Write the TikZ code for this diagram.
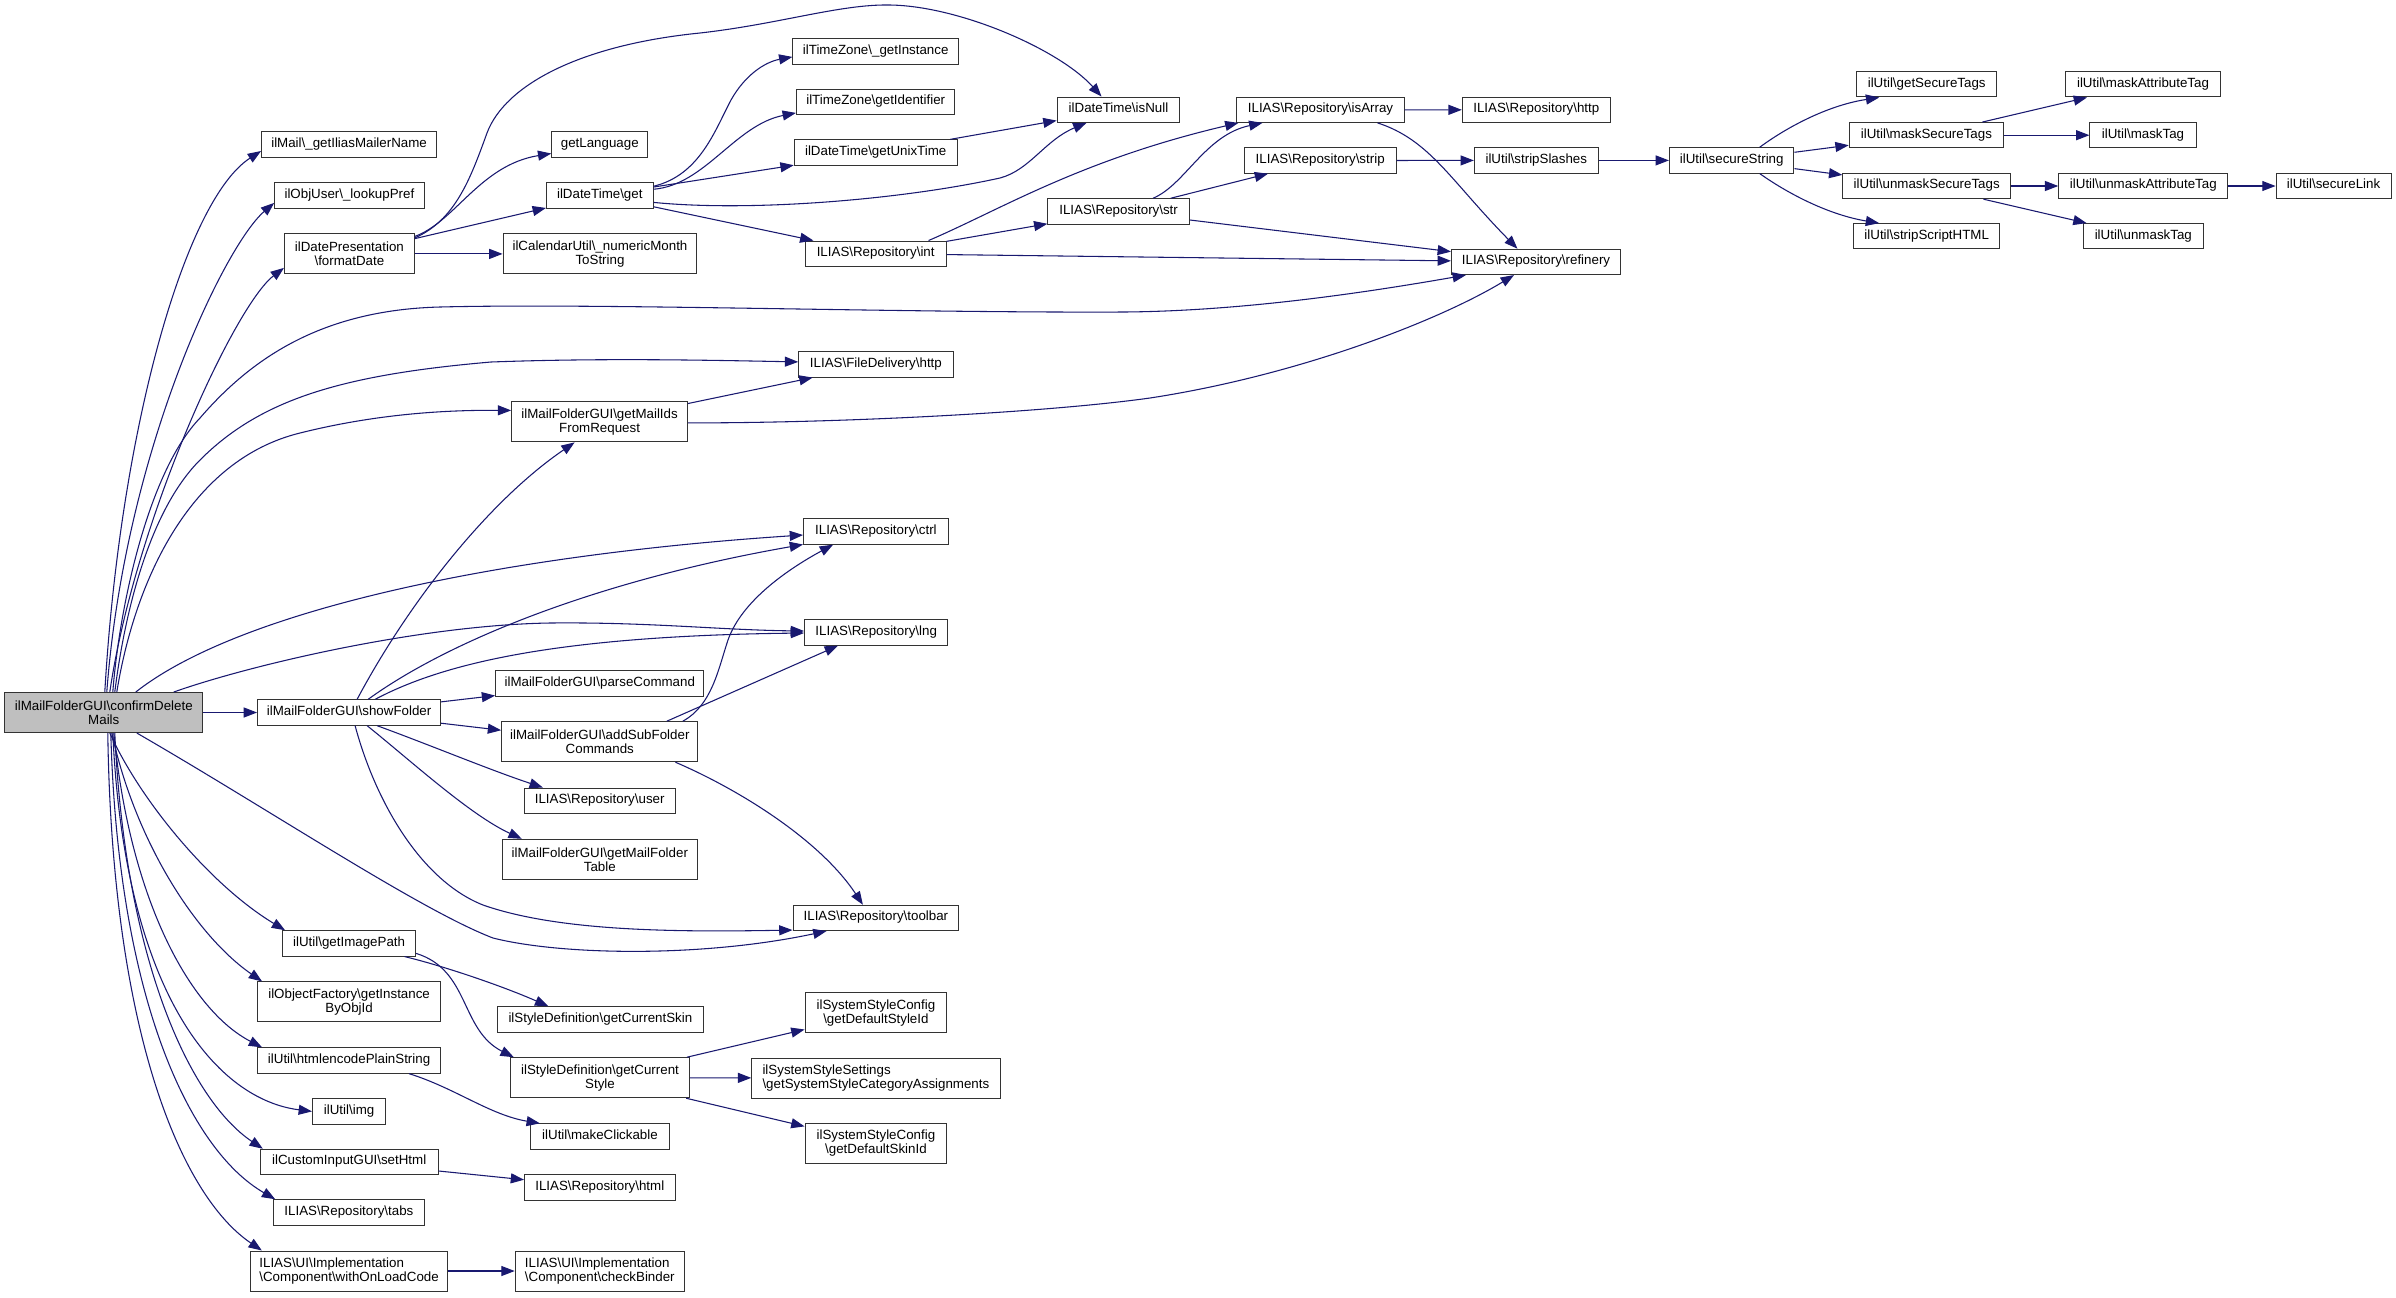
\documentclass[tikz,border=0pt]{standalone}
\usepackage{fontspec}
\setmainfont{Liberation Sans}
\usetikzlibrary{arrows.meta,calc}
\definecolor{edgecol}{HTML}{191970}
\definecolor{rootfill}{HTML}{BFBFBF}
\newcommand{\dxbs}{\textbackslash{}}
\begin{document}
\begin{tikzpicture}[x=0.75pt,y=-0.75pt,
  nd/.style={draw=black!80, line width=0.75pt, fill=white, inner sep=0pt, font=\fontsize{10}{10.5}\selectfont, minimum height=19pt, text height=7pt, text depth=2.8pt},
  ndd/.style={draw=black!80, line width=0.75pt, fill=white, inner sep=0pt, font=\fontsize{10}{10.5}\selectfont, minimum height=30pt, align=center},
  ndl/.style={ndd, align=left},
  ed/.style={draw=edgecol, line width=0.8pt, -{Triangle[length=10pt,width=7.5pt]}}]
\useasboundingbox (0,0) rectangle (2396,1297);
\fill[white] (0,0) rectangle (2396,1297);
% nodes
\node[ndd, fill=rootfill, minimum width=148.4pt] (cdm) at (103.8,712.5) {ilMailFolderGUI\dxbs confirmDelete\\Mails};
\node[nd, minimum width=131.3pt] (mailer) at (349.1,144.5) {ilMail\dxbs\_getIliasMailerName};
\node[nd, minimum width=112.1pt] (lookup) at (349.4,195.4) {ilObjUser\dxbs\_lookupPref};
\node[ndd, minimum width=97.4pt] (fdate) at (349.4,253.9) {ilDatePresentation\\\dxbs formatDate};
\node[nd, minimum width=72pt] (getlang) at (599.8,144.5) {getLanguage};
\node[nd, minimum width=80pt] (dtget) at (599.8,195.4) {ilDateTime\dxbs get};
\node[ndd, minimum width=145.4pt] (calutil) at (600,253.9) {ilCalendarUtil\dxbs\_numericMonth\\ToString};
\node[ndd, minimum width=131.9pt] (getmailids) at (599.6,421.9) {ilMailFolderGUI\dxbs getMailIds\\FromRequest};
\node[nd, minimum width=124.2pt] (tzinst) at (875.7,51.4) {ilTimeZone\dxbs\_getInstance};
\node[nd, minimum width=118.9pt] (tzid) at (875.7,101.9) {ilTimeZone\dxbs getIdentifier};
\node[nd, minimum width=122.2pt] (unixtime) at (875.7,152.5) {ilDateTime\dxbs getUnixTime};
\node[nd, minimum width=92.1pt] (isnull) at (1118.5,109.7) {ilDateTime\dxbs isNull};
\node[nd, minimum width=125.3pt] (isarray) at (1320.5,109.7) {ILIAS\dxbs Repository\dxbs isArray};
\node[nd, minimum width=113.8pt] (strip) at (1320.2,160.5) {ILIAS\dxbs Repository\dxbs strip};
\node[nd, minimum width=106.1pt] (str) at (1118.6,211.4) {ILIAS\dxbs Repository\dxbs str};
\node[nd, minimum width=105.5pt] (int) at (875.7,253.7) {ILIAS\dxbs Repository\dxbs int};
\node[nd, minimum width=115.8pt] (fdhttp) at (875.9,364.4) {ILIAS\dxbs FileDelivery\dxbs http};
\node[nd, minimum width=111pt] (rephttp) at (1536.3,109.9) {ILIAS\dxbs Repository\dxbs http};
\node[nd, minimum width=92.9pt] (stripsl) at (1536.3,160.4) {ilUtil\dxbs stripSlashes};
\node[nd, minimum width=126.8pt] (refinery) at (1536,261.9) {ILIAS\dxbs Repository\dxbs refinery};
\node[nd, minimum width=93.4pt] (securestr) at (1731.7,160.4) {ilUtil\dxbs secureString};
\node[nd, minimum width=104.9pt] (getsectags) at (1926.7,84.3) {ilUtil\dxbs getSecureTags};
\node[nd, minimum width=115.8pt] (masksec) at (1926.4,135.2) {ilUtil\dxbs maskSecureTags};
\node[nd, minimum width=125.8pt] (unmasksec) at (1926.7,186) {ilUtil\dxbs unmaskSecureTags};
\node[nd, minimum width=109.6pt] (stripscript) at (1926.7,236.3) {ilUtil\dxbs stripScriptHTML};
\node[nd, minimum width=115.8pt] (maskattr) at (2143,84.3) {ilUtil\dxbs maskAttributeTag};
\node[nd, minimum width=79.6pt] (masktag) at (2143,135.2) {ilUtil\dxbs maskTag};
\node[nd, minimum width=126.8pt] (unmaskattr) at (2143.3,186) {ilUtil\dxbs unmaskAttributeTag};
\node[nd, minimum width=89.6pt] (unmasktag) at (2143.3,236.3) {ilUtil\dxbs unmaskTag};
\node[nd, minimum width=86.3pt] (securelink) at (2333.6,186) {ilUtil\dxbs secureLink};
\node[nd, minimum width=137.3pt] (showfolder) at (349.1,712.5) {ilMailFolderGUI\dxbs showFolder};
\node[nd, minimum width=156.2pt] (parsecmd) at (599.8,683.5) {ilMailFolderGUI\dxbs parseCommand};
\node[ndd, minimum width=147.2pt] (addsub) at (599.8,741.7) {ilMailFolderGUI\dxbs addSubFolder\\Commands};
\node[nd, minimum width=113pt] (user) at (599.7,800.7) {ILIAS\dxbs Repository\dxbs user};
\node[ndd, minimum width=146.3pt] (mftable) at (599.8,859.3) {ilMailFolderGUI\dxbs getMailFolder\\Table};
\node[nd, minimum width=108.5pt] (ctrl) at (875.9,531.5) {ILIAS\dxbs Repository\dxbs ctrl};
\node[nd, minimum width=107.5pt] (lng) at (876.2,632.5) {ILIAS\dxbs Repository\dxbs lng};
\node[nd, minimum width=124.3pt] (toolbar) at (875.9,917.9) {ILIAS\dxbs Repository\dxbs toolbar};
\node[nd, minimum width=99.8pt] (getimg) at (349.1,943.4) {ilUtil\dxbs getImagePath};
\node[ndd, minimum width=137.3pt] (objfactory) at (349.1,1001.9) {ilObjectFactory\dxbs getInstance\\ByObjId};
\node[nd, minimum width=137.3pt] (htmlencode) at (349.1,1060.5) {ilUtil\dxbs htmlencodePlainString};
\node[nd, minimum width=54.9pt] (img) at (349.1,1111.4) {ilUtil\dxbs img};
\node[nd, minimum width=133.3pt] (sethtml) at (349.2,1161.9) {ilCustomInputGUI\dxbs setHtml};
\node[nd, minimum width=112.8pt] (tabs) at (348.9,1212.4) {ILIAS\dxbs Repository\dxbs tabs};
\node[ndl, minimum width=148.1pt] (onload) at (349.1,1271) {ILIAS\dxbs UI\dxbs Implementation\\\dxbs Component\dxbs withOnLoadCode};
\node[ndl, minimum width=126.9pt] (checkbinder) at (599.8,1271) {ILIAS\dxbs UI\dxbs Implementation\\\dxbs Component\dxbs checkBinder};
\node[nd, minimum width=153.9pt] (curskin) at (600.4,1019.4) {ilStyleDefinition\dxbs getCurrentSkin};
\node[ndd, minimum width=134.6pt] (curstyle) at (600,1077.7) {ilStyleDefinition\dxbs getCurrent\\Style};
\node[nd, minimum width=104.4pt] (makeclick) at (600,1136.5) {ilUtil\dxbs makeClickable};
\node[nd, minimum width=112.8pt] (html) at (599.8,1187.4) {ILIAS\dxbs Repository\dxbs html};
\node[ndd, minimum width=106.3pt] (defstyle) at (875.9,1012.7) {ilSystemStyleConfig\\\dxbs getDefaultStyleId};
\node[ndl, minimum width=186.2pt] (catassign) at (875.9,1078) {ilSystemStyleSettings\\\dxbs getSystemStyleCategoryAssignments};
\node[ndd, minimum width=106.3pt] (defskin) at (875.9,1143.3) {ilSystemStyleConfig\\\dxbs getDefaultSkinId};
% edges from confirmDeleteMails (upper)
\draw[ed] ($(cdm.north)+(1,0)$) .. controls (120,430) and (185,200) .. ($(mailer.west)+(0,6.5)$);
\draw[ed] ($(cdm.north)+(3,0)$) .. controls (125,450) and (225,245) .. ($(lookup.west)+(0,7.5)$);
\draw[ed] ($(cdm.north)+(6,0)$) .. controls (135,520) and (235,305) .. ($(fdate.west)+(0,14)$);
\draw[ed] ($(cdm.north)+(9,0)$) .. controls (120,600) and (150,470) .. (200,418) .. controls (250,360) and (320,310) .. (440,307) .. controls (600,303) and (900,313) .. (1124,312) .. controls (1250,311) and (1380,290) .. ($(refinery.south west)+(15,0)$);
\draw[ed] ($(cdm.north)+(11,0)$) .. controls (125,610) and (150,510) .. (200,460) .. controls (260,400) and (340,375) .. (491,362) .. controls (600,358) and (700,360) .. ($(fdhttp.west)+(0,-2.5)$);
\draw[ed] ($(cdm.north)+(13,0)$) .. controls (135,580) and (190,460) .. (300,433) .. controls (380,413) and (450,410) .. ($(getmailids.west)+(0,-11.5)$);
\draw[ed] ($(cdm.north)+(32,0)$) .. controls (240,610) and (500,555) .. ($(ctrl.west)+(0,3.5)$);
\draw[ed] ($(cdm.north)+(70,0)$) .. controls (250,665) and (420,625) .. (550,623) .. controls (650,622) and (720,630) .. ($(lng.west)+(0,-1.5)$);
\draw[ed] (cdm) -- (showfolder);
% edges from confirmDeleteMails (lower)
\draw[ed] ($(cdm.south)+(33,0)$) .. controls (270,810) and (420,910) .. (493,938) .. controls (560,955) and (700,958) .. ($(toolbar.south west)+(34,0)$);
\draw[ed] ($(cdm.south)+(6,0)$) .. controls (140,800) and (210,885) .. ($(getimg.north west)+(3,0)$);
\draw[ed] ($(cdm.south)+(8,0)$) .. controls (135,840) and (195,935) .. ($(objfactory.north west)+(5,0)$);
\draw[ed] ($(cdm.south)+(10,0)$) .. controls (130,900) and (190,1010) .. ($(htmlencode.north west)+(5,0)$);
\draw[ed] ($(cdm.south)+(9,0)$) .. controls (125,1000) and (220,1100) .. (img.west);
\draw[ed] ($(cdm.south)+(11,0)$) .. controls (125,960) and (190,1100) .. ($(sethtml.north west)+(3,0)$);
\draw[ed] ($(cdm.south)+(7,0)$) .. controls (118,1000) and (190,1150) .. ($(tabs.north west)+(2,0)$);
\draw[ed] ($(cdm.south)+(4,0)$) .. controls (112,1030) and (180,1195) .. ($(onload.north west)+(12,0)$);
% formatDate
\draw[ed] ($(fdate.north east)+(0,4.5)$) .. controls (455,220) and (470,180) .. (487,133) .. controls (505,85) and (580,45) .. (700,33) .. controls (780,24) and (840,4) .. (890,5) .. controls (960,6) and (1060,50) .. ($(isnull.north)+(-17,0)$);
\draw[ed] ($(fdate.north east)+(0,3)$) .. controls (455,222) and (480,165) .. ($(getlang.west)+(0,9)$);
\draw[ed] (fdate) -- (dtget);
\draw[ed] (fdate) -- (calutil);
% ilDateTime get
\draw[ed] ($(dtget.north east)+(0,4)$) .. controls (700,175) and (715,130) .. (731,100) .. controls (745,75) and (765,62) .. ($(tzinst.west)+(0,5.5)$);
\draw[ed] ($(dtget.north east)+(0,7)$) .. controls (705,185) and (735,125) .. ($(tzid.west)+(0,11)$);
\draw[ed] (dtget) -- (unixtime);
\draw[ed] ($(dtget.east)+(0,7)$) .. controls (750,212) and (900,200) .. (1000,178) .. controls (1030,170) and (1045,140) .. ($(isnull.south)+(-32,0)$);
\draw[ed] (dtget) -- (int);
\draw[ed] (unixtime) -- (isnull);
% int, str, isArray
\draw[ed] ($(int.north east)+(-18,0)$) .. controls (1000,210) and (1080,160) .. ($(isarray.south west)+(2,0)$);
\draw[ed] (int) -- (str);
\draw[ed] (int) -- (refinery);
\draw[ed] ($(str.north)+(34.4,0)$) .. controls (1185,185) and (1205,135) .. ($(isarray.south west)+(26,0)$);
\draw[ed] (str) -- (strip);
\draw[ed] (str) -- (refinery);
\draw[ed] (isarray) -- (rephttp);
\draw[ed] ($(isarray.south east)+(-27,0)$) .. controls (1430,140) and (1450,180) .. ($(refinery.north)+(-18.5,0)$);
\draw[ed] (strip) -- (stripsl);
\draw[ed] (stripsl) -- (securestr);
% secureString
\draw[ed] ($(securestr.north)+(28,0)$) .. controls (1790,125) and (1830,105) .. ($(getsectags.south west)+(23,0)$);
\draw[ed] (securestr) -- (masksec);
\draw[ed] (securestr) -- (unmasksec);
\draw[ed] ($(securestr.south)+(28,0)$) .. controls (1790,195) and (1830,215) .. ($(stripscript.north west)+(26,0)$);
\draw[ed] (masksec) -- (maskattr);
\draw[ed] (masksec) -- (masktag);
\draw[ed] (unmasksec) -- (unmaskattr);
\draw[ed] (unmasksec) -- (unmasktag);
\draw[ed] (unmaskattr) -- (securelink);
% getMailIdsFromRequest
\draw[ed] (getmailids) -- (fdhttp);
\draw[ed] ($(getmailids.east)+(0,1)$) .. controls (850,423) and (1050,412) .. (1150,398) .. controls (1300,375) and (1440,320) .. ($(refinery.south)+(-22,0)$);
% showFolder
\draw[ed] ($(showfolder.north)+(8,0)$) .. controls (410,600) and (490,500) .. ($(getmailids.south)+(-25,0)$);
\draw[ed] ($(showfolder.north)+(19,0)$) .. controls (450,640) and (600,580) .. ($(ctrl.west)+(0,13)$);
\draw[ed] ($(showfolder.north)+(26,0)$) .. controls (440,665) and (550,636) .. ($(lng.west)+(0,0.5)$);
\draw[ed] (showfolder) -- (parsecmd);
\draw[ed] (showfolder) -- (addsub);
\draw[ed] ($(showfolder.south)+(28,0)$) .. controls (430,745) and (490,770) .. ($(user.north west)+(19,0)$);
\draw[ed] ($(showfolder.south)+(18,0)$) .. controls (410,760) and (470,815) .. ($(mftable.north west)+(20,0)$);
\draw[ed] ($(showfolder.south)+(6,0)$) .. controls (375,800) and (420,880) .. (483,905) .. controls (560,932) and (680,932) .. ($(toolbar.south west)+(0,-1)$);
% addSubFolderCommands
\draw[ed] ($(addsub.north)+(83,0)$) .. controls (712,705) and (718,670) .. (728,640) .. controls (742,600) and (790,568) .. ($(ctrl.south west)+(30,0)$);
\draw[ed] ($(addsub.north)+(67,0)$) -- ($(lng.south west)+(34,0)$);
\draw[ed] ($(addsub.south east)+(-23,0)$) .. controls (740,790) and (820,840) .. ($(toolbar.north)+(-13,0)$);
% getImagePath, getCurrentStyle
\draw[ed] ($(getimg.south east)+(-11.6,0)$) .. controls (440,965) and (500,985) .. ($(curskin.north west)+(51,0)$);
\draw[ed] ($(getimg.east)+(0,10)$) .. controls (470,970) and (460,1030) .. ($(curstyle.north west)+(4,0)$);
\draw[ed] (curstyle) -- (defstyle);
\draw[ed] (curstyle) -- (catassign);
\draw[ed] (curstyle) -- (defskin);
% others
\draw[ed] ($(htmlencode.south east)+(-32,0)$) .. controls (455,1088) and (490,1115) .. ($(makeclick.north west)+(10,0)$);
\draw[ed] (sethtml) -- (html);
\draw[ed] (onload) -- (checkbinder);
\end{tikzpicture}
\end{document}
